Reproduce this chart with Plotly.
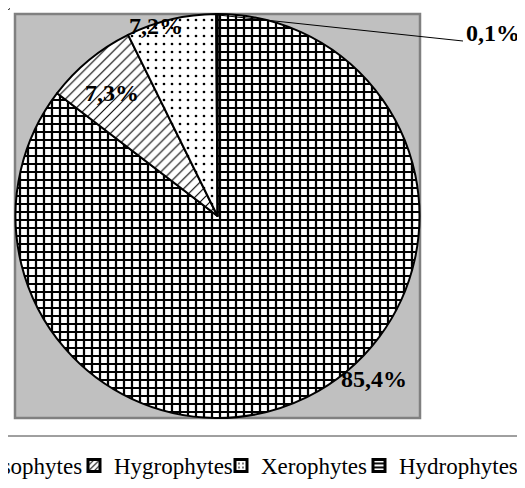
import plotly.graph_objects as go

# The page has an 8px body margin, so figure pixel = page pixel - 8.
PAGE_OFF = 8
FIG_W, FIG_H = 620, 480          # wider than the window: the legend runs off the left edge like the reference
PLOT_BOTTOM = 436                # frame line above the legend (page px)
PLOT_H = PLOT_BOTTOM - PAGE_OFF

categories = ["Mesophytes", "Hygrophytes", "Xerophytes", "Hydrophytes"]
values = [85.4, 7.3, 7.2, 0.1]
pattern_shapes = ["+", "/", ".", "-"]
pattern_sizes = [8, 7, 8, 6]
pattern_solidity = [0.48, 0.16, 0.09, 0.3]
# horizontal room each legend entry takes (px) so entries sit where the reference has them
legend_widths = [98, 102, 93, 125]


def px_x(p):
    return (p - PAGE_OFF) / FIG_W


def px_y(p):
    return 1 - (p - PAGE_OFF) / PLOT_H


def fmt(v):
    return f"{v:.1f}".replace(".", ",") + "%"


FONT = "Times New Roman, Liberation Serif, serif"

fig = go.Figure()
fig.add_trace(go.Pie(
    labels=categories,
    values=values,
    sort=False,
    direction="clockwise",
    rotation=0,
    textinfo="none",
    hoverinfo="label+percent",
    showlegend=False,
    domain=dict(x=[px_x(15), px_x(420)], y=[px_y(418), px_y(14)]),
    marker=dict(
        colors=["white"] * 4,
        line=dict(color="black", width=2),
        pattern=dict(shape=pattern_shapes, fgcolor="black", bgcolor="white",
                     size=pattern_sizes, solidity=pattern_solidity),
    ),
))

# legend entries (one per category) so that each entry can get its own width
for cat, shp, sol, lw in zip(categories, pattern_shapes, pattern_solidity, legend_widths):
    fig.add_trace(go.Pie(
        labels=[cat], values=[1], sort=False, textinfo="none",
        hoverinfo="skip", showlegend=True, legendwidth=lw,
        domain=dict(x=[0, 0.0005], y=[0.9995, 1]),
        marker=dict(colors=["white"], line=dict(color="black", width=3),
                    pattern=dict(shape=shp, fgcolor="black", bgcolor="white",
                                 size=4, solidity=min(0.9, sol * 1.6))),
    ))

# plot-area background (grey square)
fig.add_shape(type="rect", xref="paper", yref="paper",
              x0=px_x(15), x1=px_x(420), y0=px_y(418), y1=px_y(14),
              fillcolor="#c0c0c0", line=dict(color="#808080", width=2.5),
              layer="below")
# chart frame line above legend
fig.add_shape(type="line", xref="paper", yref="paper",
              x0=0, x1=1, y0=px_y(436), y1=px_y(436),
              line=dict(color="#404040", width=1))
# leader line for the tiny slice
fig.add_shape(type="line", xref="paper", yref="paper",
              x0=px_x(218), y0=px_y(15), x1=px_x(463), y1=px_y(41),
              line=dict(color="black", width=1))

label_pos = [(374, 379, "center"), (112, 93, "center"),
             (156, 26, "center"), (522, 33, "right")]
for v, (lx, ly, anc) in zip(values, label_pos):
    fig.add_annotation(xref="paper", yref="paper", x=px_x(lx), y=px_y(ly),
                       text=f"<b>{fmt(v)}</b>", showarrow=False,
                       xanchor=anc, yanchor="middle",
                       font=dict(family=FONT, size=24, color="black"))

fig.update_layout(
    width=FIG_W, height=FIG_H,
    margin=dict(l=0, r=0, t=0, b=FIG_H - PLOT_H, autoexpand=False),
    paper_bgcolor="white",
    plot_bgcolor="white",
    showlegend=True,
    legend=dict(orientation="h", x=px_x(-69), xanchor="left", y=px_y(444),
                yanchor="top", font=dict(family=FONT, size=23, color="black"),
                bgcolor="rgba(0,0,0,0)", itemwidth=30, traceorder="normal"),
)

fig.write_html("out.html")
